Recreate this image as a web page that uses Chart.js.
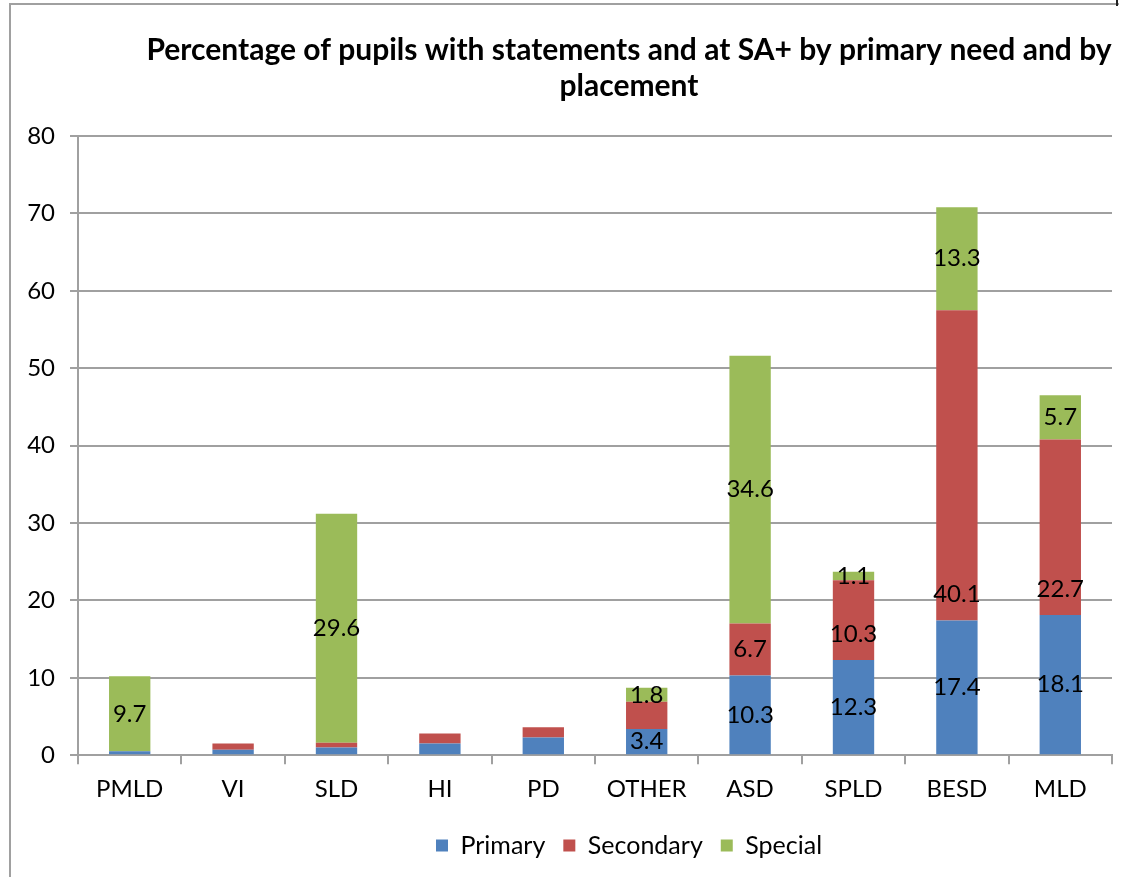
<!DOCTYPE html>
<html>
<head>
<meta charset="utf-8">
<script src="https://cdn.jsdelivr.net/npm/chart.js@4.4.0/dist/chart.umd.min.js"></script>
<style>
    html, body { margin: 0; padding: 0; background: #fff; overflow: hidden; }
    #frame {
        position: absolute; left: 9px; top: 3px; width: 1108px; height: 900px;
        border-left: 2px solid #a0a0a0; border-top: 2px solid #a0a0a0;
    }
    #corner { position: absolute; left: 1116px; top: 0; width: 2px; height: 6px; background: #222; }
    #wrap { position: absolute; left: 0; top: 0; width: 1240px; height: 877px; }
</style>
</head>
<body>
<div id="frame"></div>
<div id="corner"></div>
<div id="wrap"><canvas id="needChart"></canvas></div>
<script>
const categories = ['PMLD', 'VI', 'SLD', 'HI', 'PD', 'OTHER', 'ASD', 'SPLD', 'BESD', 'MLD'];
const primaryValues = [0.5, 0.7, 1.0, 1.5, 2.3, 3.4, 10.3, 12.3, 17.4, 18.1];
const secondaryValues = [0.0, 0.8, 0.6, 1.3, 1.3, 3.5, 6.7, 10.3, 40.1, 22.7];
const specialValues = [9.7, 0.0, 29.6, 0.0, 0.0, 1.8, 34.6, 1.1, 13.3, 5.7];
const yTicks = [0, 10, 20, 30, 40, 50, 60, 70, 80];

// which bars carry a value label, per series
const labelledPrimary = ['OTHER', 'ASD', 'SPLD', 'BESD', 'MLD'];
const labelledSecondary = ['ASD', 'SPLD', 'BESD', 'MLD'];
const labelledSpecial = ['PMLD', 'SLD', 'OTHER', 'ASD', 'SPLD', 'BESD', 'MLD'];

const FONT = 'Lato, "Open Sans", sans-serif';

// value labels: centred in the segment, or just above its base for 'base'
const segmentLabels = {
    id: 'segmentLabels',
    afterDatasetsDraw(chart) {
        const ctx = chart.ctx;
        ctx.save();
        ctx.font = '24px ' + FONT;
        ctx.fillStyle = '#000';
        ctx.textAlign = 'center';
        ctx.textBaseline = 'middle';
        chart.data.datasets.forEach((ds, i) => {
            const meta = chart.getDatasetMeta(i);
            meta.data.forEach((bar, j) => {
                if (!ds.labelled.includes(categories[j])) return;
                const y = ds.labelAnchor === 'base' ? bar.base - 26 : (bar.y + bar.base) / 2;
                ctx.fillText(ds.data[j].toFixed(1), bar.x, y);
            });
        });
        ctx.restore();
    }
};

const ctx = document.getElementById('needChart').getContext('2d');
const needChart = new Chart(ctx, {
    type: 'bar',
    data: {
        labels: categories,
        datasets: [
            { label: 'Primary', data: primaryValues, backgroundColor: '#4F81BD', labelled: labelledPrimary },
            { label: 'Secondary', data: secondaryValues, backgroundColor: '#C0504D', labelled: labelledSecondary, labelAnchor: 'base' },
            { label: 'Special', data: specialValues, backgroundColor: '#9BBB59', labelled: labelledSpecial }
        ]
    },
    options: {
        responsive: true,
        maintainAspectRatio: false,
        animation: false,
        datasets: { bar: { barPercentage: 0.4, categoryPercentage: 1.0 } },
        layout: { padding: { left: 18, right: 0, bottom: 9 } },
        scales: {
            x: {
                stacked: true,
                grid: { drawOnChartArea: false, color: '#a0a0a0', lineWidth: 2, tickLength: 9 },
                border: { color: '#a0a0a0', width: 2 },
                ticks: { color: '#000', font: { family: FONT, size: 24 }, padding: 11 }
            },
            y: {
                stacked: true,
                min: 0,
                max: 80,
                afterBuildTicks(axis) { axis.ticks = yTicks.map(v => ({ value: v })); },
                afterFit(axis) { axis.width = 60; },
                grid: { color: '#a0a0a0', lineWidth: 2, tickLength: 8 },
                border: { color: '#a0a0a0', width: 2 },
                ticks: { color: '#000', font: { family: FONT, size: 24 }, padding: 15 }
            },
            // empty spacer on the right so the title and legend sit where the original has them
            spacer: {
                type: 'linear',
                position: 'right',
                afterFit(axis) { axis.width = 128; },
                grid: { drawOnChartArea: false, drawTicks: false },
                border: { display: false },
                ticks: { display: false }
            }
        },
        plugins: {
            title: {
                display: true,
                text: ['Percentage of pupils with statements and at SA+ by primary need and by', 'placement'],
                color: '#000',
                font: { family: FONT, size: 30, weight: 'bold', lineHeight: 1.2 },
                padding: { top: 32, bottom: 32 }
            },
            legend: {
                position: 'bottom',
                labels: {
                    color: '#000',
                    font: { family: FONT, size: 25 },
                    boxWidth: 12,
                    boxHeight: 12,
                    padding: 18
                }
            },
            tooltip: { enabled: false }
        }
    },
    plugins: [segmentLabels]
});
</script>
</body>
</html>
